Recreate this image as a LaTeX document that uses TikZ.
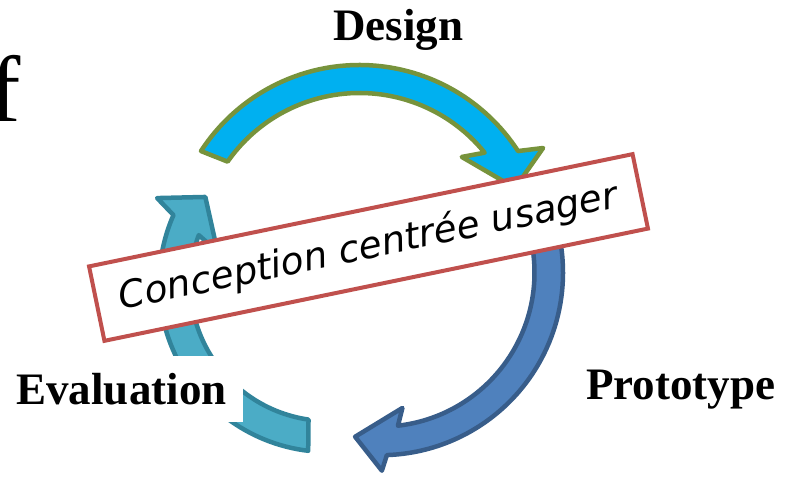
\documentclass[tikz,border=0pt]{standalone}
\usepackage{fontspec}
\newfontfamily\labelfont{Liberation Serif}
\newfontfamily\handfont{DejaVu Sans}
\usetikzlibrary{calc}
\definecolor{designfill}{HTML}{00B0F0}
\definecolor{designline}{HTML}{77933C}
\definecolor{protofill}{HTML}{4F81BD}
\definecolor{protoline}{HTML}{385D8A}
\definecolor{evalfill}{HTML}{4BACC6}
\definecolor{evalline}{HTML}{31849B}
\definecolor{rectred}{HTML}{C0504D}
\begin{document}
\begin{tikzpicture}[x=1pt,y=1pt,
  arrowshape/.style={line width=4.5pt, line join=round},
  stagelabel/.style={font=\labelfont\fontsize{45}{50}\selectfont\bfseries, inner sep=0pt, anchor=base west},
  ucdbox/.style={draw=rectred, line width=4pt, fill=white, minimum width=555pt, minimum height=76pt, inner sep=0pt,
    font=\handfont\itshape\fontsize{37.5}{42}\selectfont}
]
\useasboundingbox (0,0) rectangle (794,476);

% fragment of a title
\node (titlef) [inner sep=0pt, anchor=base west, font=\labelfont\fontsize{94}{100}\selectfont] at (-11,354) {f};

% Design arrow
\begin{scope}[shift={(359.5,222)}]
\draw[arrowshape, draw=designline, fill=designfill]
  (147:189pt) arc[start angle=147, end angle=33, radius=189pt]
  -- (30:212pt) -- (23:169pt) -- (43.5:141pt) -- (39:161pt)
  arc[start angle=39, end angle=145, radius=161pt] -- cycle;
\end{scope}

% Prototype arrow
\begin{scope}[shift={(380.5,203.3)}]
\draw[arrowshape, draw=protoline, fill=protofill]
  (15:182.5pt) arc[start angle=15, end angle=-88, radius=182.5pt]
  -- (-89.6:198pt) -- (-98.8:166pt) -- (-80.8:137pt) -- (-83.5:154pt)
  arc[start angle=-83.5, end angle=15, radius=154pt] -- cycle;
\end{scope}

% Evaluation arrow
\begin{scope}[shift={(328.2,193)}]
\draw[arrowshape, draw=evalline, fill=evalfill]
  (263.2:169pt) arc[start angle=263.2, end angle=156.3, radius=169pt]
  -- (153.6:191pt) -- (145:150pt) -- (164.2:115pt) -- (159.7:138pt)
  arc[start angle=159.7, end angle=261.8, radius=138pt] -- cycle;
\end{scope}

% central banner
\node (ucd) [ucdbox, rotate=11.67] at (368.5,228.5) {Conception centrée usager};

% stage labels
\node (design) [stagelabel] at (333,435) {Design};
\node (prototype) [stagelabel] at (586,76) {Prototype};
\node (evaluation) [font=\labelfont\fontsize{45}{50}\selectfont\bfseries, fill=white, inner sep=0pt,
  minimum width=243pt, minimum height=66pt] at (121.5,87) {Evaluation};
\end{tikzpicture}
\end{document}
